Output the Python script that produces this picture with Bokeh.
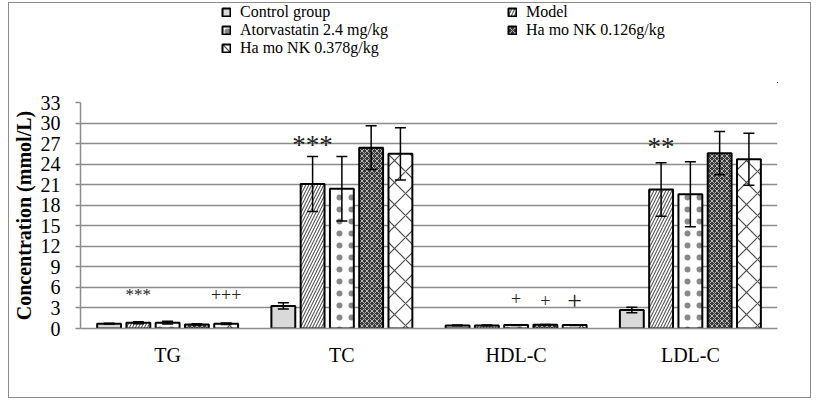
from bokeh.plotting import figure
from bokeh.layouts import column
from bokeh.models import (ColumnDataSource, Whisker, TeeHead, Legend, LegendItem,
                          Range1d, FixedTicker, FactorRange, BoxAnnotation)
from bokeh.transform import dodge
from bokeh.core.properties import value
from bokeh.embed import file_html
from bokeh.resources import INLINE

# ---------------- data ----------------
categories = ["TG", "TC", "HDL-C", "LDL-C"]
series_names = ["Control group", "Model", "Atorvastatin 2.4 mg/kg",
                "Ha mo NK 0.126g/kg", "Ha mo NK 0.378g/kg"]

control_mean = [0.70, 3.3, 0.45, 2.7]
control_err = [0.05, 0.45, 0.05, 0.40]
model_mean = [0.85, 21.1, 0.45, 20.3]
model_err = [0.15, 4.0, 0.05, 3.9]
atorva_mean = [0.85, 20.4, 0.50, 19.6]
atorva_err = [0.20, 4.7, 0.05, 4.75]
hamo126_mean = [0.60, 26.4, 0.55, 25.6]
hamo126_err = [0.08, 3.2, 0.05, 3.15]
hamo378_mean = [0.70, 25.5, 0.50, 24.7]
hamo378_err = [0.10, 3.8, 0.05, 3.8]

y_ticks = [0, 3, 6, 9, 12, 15, 18, 21, 24, 27, 30, 33]

# significance marks: text, category, series index, level
ann_text = ["***", "+++", "***", "+", "+", "+", "**"]
ann_cat = ["TG", "TG", "TC", "HDL-C", "HDL-C", "HDL-C", "LDL-C"]
ann_series = [1, 4, 1, 2, 3, 4, 1]
ann_level = [4.95, 4.9, 26.85, 4.35, 4.05, 4.15, 26.5]

# ---------------- styles ----------------
ann_font_sizes = ["17px", "18px", "27px", "18px", "18px", "26px", "27px"]
SERIF = "Liberation Serif"
GRID = "#8c8c8c"
STEP = 0.168
offsets = [-2 * STEP, -STEP, 0.0, STEP, 2 * STEP]
BAR_W = 0.137
bar_styles = [
    dict(fill_color="#d9d9d9"),
    dict(fill_color="white", hatch_pattern="right_diagonal_line", hatch_color="#555555",
         hatch_scale=6, hatch_weight=1.1),
    dict(fill_color="white", hatch_pattern="dot", hatch_color="#888888",
         hatch_scale=12, hatch_weight=1),
    dict(fill_color="#3a3a3a", hatch_pattern="diagonal_cross", hatch_color="#b5b5b5",
         hatch_scale=5, hatch_weight=1),
    dict(fill_color="white", hatch_pattern="diagonal_cross", hatch_color="#4a4a4a",
         hatch_scale=22, hatch_weight=1.2),
]

means = [control_mean, model_mean, atorva_mean, hamo126_mean, hamo378_mean]
errs = [control_err, model_err, atorva_err, hamo126_err, hamo378_err]

LEG_H = 80
INNER_W = 801
INNER_H = 394

# ---------------- main chart ----------------
p = figure(x_range=FactorRange(factors=categories), y_range=Range1d(0, 33),
           width=INNER_W, height=INNER_H - LEG_H,
           min_border_left=66, min_border_right=33, min_border_top=99 - LEG_H,
           min_border_bottom=69,
           output_backend="svg", toolbar_location=None, tools="")
p.outline_line_color = None
p.background_fill_color = "white"
p.border_fill_color = "white"

p.xgrid.visible = False
p.ygrid.grid_line_color = GRID
p.ygrid.grid_line_width = 1.5

p.yaxis.ticker = FixedTicker(ticks=y_ticks)
p.yaxis.minor_tick_line_color = None
p.yaxis.major_tick_out = 5
p.yaxis.major_tick_in = 0
p.yaxis.major_tick_line_color = GRID
p.yaxis.major_tick_line_width = 1.5
p.yaxis.axis_line_color = GRID
p.yaxis.axis_line_width = 1.5
p.yaxis.major_label_text_font = SERIF
p.yaxis.major_label_text_font_size = "20px"
p.yaxis.major_label_text_color = "black"
p.yaxis.major_label_standoff = 15
p.yaxis.axis_label = "Concentration (mmol/L)"
p.yaxis.axis_label_text_font = SERIF
p.yaxis.axis_label_text_font_style = "bold"
p.yaxis.axis_label_text_font_size = "20px"
p.yaxis.axis_label_text_color = "black"
p.yaxis.axis_label_standoff = 3

p.xaxis.major_tick_out = 0
p.xaxis.major_tick_in = 0
p.xaxis.minor_tick_line_color = None
p.xaxis.axis_line_color = GRID
p.xaxis.axis_line_width = 1.5
p.xaxis.major_label_text_font = SERIF
p.xaxis.major_label_text_font_size = "20px"
p.xaxis.major_label_text_color = "black"
p.xaxis.major_label_standoff = 15

sources = []
for i, (m, e, st) in enumerate(zip(means, errs, bar_styles)):
    src = ColumnDataSource(dict(cat=categories, top=m,
                                upper=[a + b for a, b in zip(m, e)],
                                lower=[a - b for a, b in zip(m, e)]))
    sources.append(src)
    p.vbar(x=dodge("cat", offsets[i], range=p.x_range), top="top", bottom=0,
           width=BAR_W, source=src, line_color="black", line_width=2, **st)
    w = Whisker(base=dodge("cat", offsets[i], range=p.x_range), upper="upper", lower="lower",
                source=src, line_color="black", line_width=1.5, level="overlay",
                upper_head=TeeHead(size=11, line_color="black", line_width=1.5),
                lower_head=TeeHead(size=11, line_color="black", line_width=1.5))
    p.add_layout(w)

# significance marks
for s in sorted(set(ann_series)):
    idx = [k for k, v in enumerate(ann_series) if v == s]
    asrc = ColumnDataSource(dict(cat=[ann_cat[k] for k in idx],
                                 y=[ann_level[k] for k in idx],
                                 text=[ann_text[k] for k in idx],
                                 size=[ann_font_sizes[k] for k in idx]))
    p.text(x=dodge("cat", offsets[s], range=p.x_range), y="y", text="text", source=asrc,
           text_font=value(SERIF), text_font_size="size", text_color="#222222",
           text_align="center", text_baseline="middle")

# ---------------- legend strip (same series, drawn outside this strip's view) ----------------
lf = figure(width=INNER_W, height=LEG_H, x_range=FactorRange(factors=categories),
            y_range=Range1d(100, 180),
            min_border=0, x_axis_location=None, y_axis_location=None,
            output_backend="svg", toolbar_location=None, tools="")
lf.outline_line_color = None
lf.grid.visible = False
lf.background_fill_color = "white"
lf.border_fill_color = "white"

OUT_OF_VIEW = 8  # shift in category units so the strip's own bars never show
leg_renderers = []
for i, st in enumerate(bar_styles):
    leg_renderers.append(lf.vbar(x=dodge("cat", offsets[i] + OUT_OF_VIEW, range=lf.x_range),
                                 top="top", bottom=0, width=BAR_W, source=sources[i],
                                 line_color="black", line_width=2, **st))

# white strip along the bottom edge of the legend strip's frame
lf.add_layout(BoxAnnotation(top=106, fill_color="white", fill_alpha=1.0,
                            line_color=None, level="overlay"))


def make_legend(idxs, loc):
    lg = Legend(items=[LegendItem(label=series_names[k], renderers=[leg_renderers[k]])
                       for k in idxs], location=loc)
    lg.border_line_color = None
    lg.background_fill_alpha = 0
    lg.padding = 0
    lg.margin = 0
    lg.spacing = 0
    lg.glyph_width = 10
    lg.glyph_height = 10
    lg.label_height = 15
    lg.label_standoff = 9
    lg.label_text_font = SERIF
    lg.label_text_font_size = "16px"
    lg.label_text_color = "black"
    return lg


lf.add_layout(make_legend([0, 2, 4], (141, 26)))
lf.add_layout(make_legend([1, 3], (427, 44)))

layout = column(lf, p, spacing=0)
layout.styles = {"border": "1px solid #8c8c8c", "margin-left": "8px", "margin-top": "2px"}

open("out.html", "w").write(file_html(layout, INLINE))
